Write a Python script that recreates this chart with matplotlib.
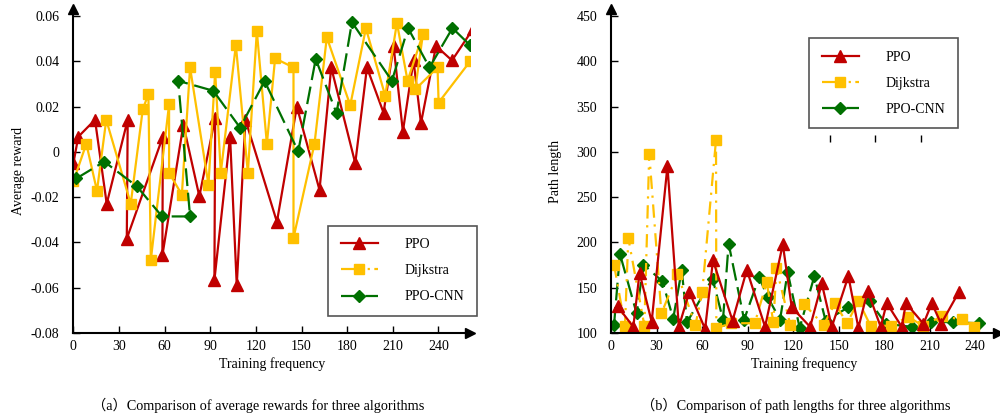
import matplotlib
matplotlib.use('Agg')
import matplotlib.pyplot as plt
from matplotlib.lines import Line2D

plt.rcParams['font.family'] = ['Liberation Serif', 'Noto Sans CJK SC']
plt.rcParams['font.size'] = 10

# (a) average reward
ppo_x = [0, 3.2, 14.2, 21.9, 35.7, 35.1, 58.8, 58.5, 72.3, 82.8, 93.2, 92.7, 103, 107.4, 113.1,
         133.8, 146.9, 161.8, 169.5, 185.3, 193, 203.9, 210.5, 216.6, 223.6, 228.5, 238.4, 248.9, 262.7]
ppo_r = [-0.005, 0.0067, 0.0142, -0.0229, 0.0142, -0.0383, 0.0067, -0.0457, 0.012, -0.0196, 0.015, -0.0566,
         0.0067, -0.0589, 0.0142, -0.0309, 0.0200, -0.0168, 0.0373, -0.005, 0.0373, 0.0173, 0.0468, 0.009,
         0.0404, 0.0127, 0.0468, 0.0404, 0.0543]
dij_x = [0, 8.5, 15.5, 21.6, 37.7, 45.6, 49.3, 50.9, 62.9, 62.9, 71.3, 76.7, 88.8, 93.2, 96.9, 106.8,
         114.7, 120.6, 127.2, 132.6, 144.7, 144.7, 158.5, 166.6, 182, 192.3, 205, 212.7, 219.7, 229.8,
         224.7, 239.4, 240.1, 260.9]
dij_r = [-0.013, 0.0036, -0.0172, 0.0142, -0.0229, 0.0188, 0.0255, -0.0477, 0.021, -0.0092, -0.0189,
         0.0373, -0.0145, 0.0354, -0.0092, 0.0472, -0.0092, 0.0533, 0.0036, 0.0413, 0.0373, -0.038,
         0.0036, 0.0506, 0.0206, 0.0546, 0.0248, 0.057, 0.0314, 0.0521, 0.0276, 0.0373, 0.0218, 0.0401]
cnn_x = [2, 20.3, 41.7, 58.3, 76.7, 68.9, 92, 109.6, 125.7, 147.8, 159.3, 173, 183.1, 209.4, 220,
         234.1, 249.2, 260.5]
cnn_r = [-0.0117, -0.0043, -0.0152, -0.0285, -0.0285, 0.0314, 0.027, 0.0107, 0.0313, 0.0002, 0.041,
         0.0171, 0.0573, 0.0314, 0.0547, 0.0373, 0.0547, 0.0473]

# (b) path length
ppo_px = [4.3, 14.7, 18.8, 26.8, 37.2, 44.7, 51.6, 62, 67.2, 80.1, 89.5, 101.5, 113.2, 119.1, 131.2,
          138.9, 145.5, 156.4, 163, 169.1, 177.7, 181.7, 191.6, 194.3, 205.9, 211.4, 217.5, 229.3]
ppo_len = [129.5, 106.8, 166.3, 112.5, 284.4, 106.8, 145.5, 104.5, 180.2, 113.6, 169.8, 106.8, 198,
           128.4, 106.8, 154.7, 106.8, 162.8, 105.7, 146.6, 106.8, 133, 106.8, 133, 110.2, 133, 110.2, 145.5]
dij_px = [2, 9.2, 11.4, 22, 25.2, 33.2, 43.8, 55.6, 60.1, 69.2, 69.4, 79, 94.7, 102.6, 107, 109, 118.2,
          127.4, 140.1, 147.5, 155.6, 163, 171, 184.6, 195.8, 205.3, 218.3, 231.2, 239.1]
dij_len = [175.6, 108, 205, 108, 297.9, 121.6, 165.1, 108.5, 145.5, 313.1, 105.3, 110.8, 110.8, 156.1,
           111.7, 171.3, 108.7, 131.6, 108.7, 132.7, 110.8, 135.6, 108, 108, 118.2, 108, 118.5, 115.1, 106.8]
cnn_px = [2, 5.9, 16.9, 21.4, 33.9, 41, 46.6, 50.1, 66.9, 73.8, 77.5, 87.7, 97.6, 103.2, 111.4, 116.4,
          124.3, 134, 141.4, 156.4, 170.4, 181, 198.4, 210.9, 225.1, 242.6]
cnn_len = [109.1, 187.2, 121.6, 175.6, 157, 115.9, 169.8, 111.9, 160.2, 114.8, 198.8, 114.8, 161.6,
           139.8, 114.8, 167.4, 105.7, 162.8, 113.6, 128.4, 135.2, 110.2, 106.8, 112.5, 111.9, 110.8]

red = '#C00000'
yellow = '#FFC000'
green = '#007000'

fig = plt.figure(figsize=(10, 4.18), dpi=100)
ax1 = fig.add_axes([0.0734, 0.2033, 0.397, 0.775])
ax2 = fig.add_axes([0.611, 0.2033, 0.387, 0.775])


def style_axis(ax, xmax, ylo, yhi, yticks):
    ax.set_xlim(0, xmax)
    ax.set_ylim(ylo, yhi)
    for s in ['top', 'right']:
        ax.spines[s].set_visible(False)
    for s in ['left', 'bottom']:
        ax.spines[s].set_linewidth(1.5)
    ax.set_xticks(range(0, 241, 30))
    ax.set_yticks(yticks)
    ax.tick_params(axis='both', direction='in', length=5, width=1, labelsize=10)
    ax.tick_params(axis='x', pad=5)
    ax.tick_params(axis='y', pad=10)
    ax.plot(1, 0, '>k', ms=7, transform=ax.transAxes, clip_on=False)
    ax.plot(0, 1, '^k', ms=7, transform=ax.transAxes, clip_on=False)
    ax.set_xlabel('Training frequency', labelpad=3)


ax1.plot(ppo_x, ppo_r, color=red, lw=1.6, marker='^', ms=9)
ax1.plot(dij_x, dij_r, color=yellow, lw=1.6, marker='s', ms=7)
ax1.plot(cnn_x, cnn_r, color=green, lw=1.6, marker='D', ms=6, dashes=(8, 3))
style_axis(ax1, 261, -0.08, 0.0631, [-0.08, -0.06, -0.04, -0.02, 0, 0.02, 0.04, 0.06])
ax1.set_yticklabels(['-0.08', '-0.06', '-0.04', '-0.02', '0', '0.02', '0.04', '0.06'])
ax1.set_ylabel('Average reward', labelpad=4)

ax2.plot(cnn_px, cnn_len, color=green, lw=1.6, marker='D', ms=6, dashes=(8, 3))
ax2.plot(dij_px, dij_len, color=yellow, lw=1.6, marker='s', ms=7, dashes=(6, 3, 1, 3))
ax2.plot(ppo_px, ppo_len, color=red, lw=1.6, marker='^', ms=9)
style_axis(ax2, 255, 100, 457.7, range(100, 451, 50))
ax2.set_ylabel('Path length', labelpad=10)
ax2.vlines([144, 174, 204], 311, 319, color='k', lw=1)

# legend handles: same look in both panels
handles = [
    Line2D([], [], color=red, lw=1.6, marker='^', ms=9),
    Line2D([], [], color=yellow, lw=1.6, marker='s', ms=7, dashes=(10, 2, 1, 2)),
    Line2D([], [], color=green, lw=1.6, marker='D', ms=6, dashes=(8, 3)),
]
labels = ['PPO', 'Dijkstra', 'PPO-CNN']

leg_kw = dict(loc='upper left', fancybox=False, edgecolor='#555555', framealpha=1,
              handlelength=2.7, handletextpad=1.9, labelspacing=0.95, borderpad=0.9,
              numpoints=1, fontsize=10)
lg1 = ax1.legend(handles, labels, bbox_to_anchor=(0.624, 0.353), **leg_kw)
lg1.get_frame().set_linewidth(1.2)
lg2 = ax2.legend(handles, labels, bbox_to_anchor=(0.494, 0.932), **leg_kw)
lg2.get_frame().set_linewidth(1.2)

fig.text(0.258, 0.031, '（a）Comparison of average rewards for three algorithms', ha='center', va='center', fontsize=10.3)
fig.text(0.796, 0.031, '（b）Comparison of path lengths for three algorithms', ha='center', va='center', fontsize=10.3)

fig.savefig('out.png', dpi=100)
